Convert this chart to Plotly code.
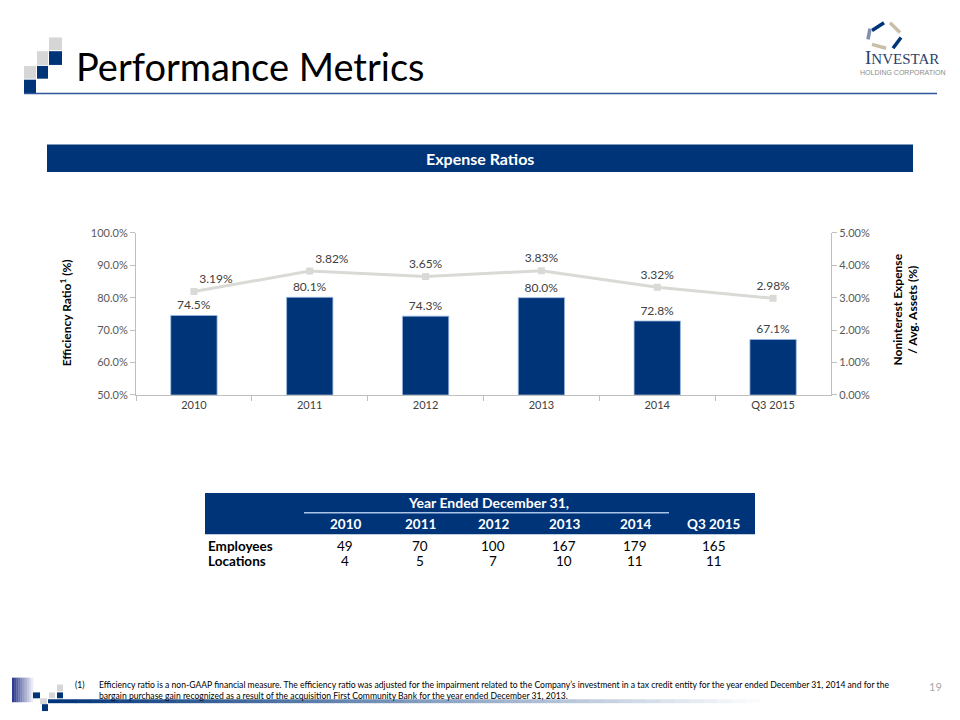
import plotly.graph_objects as go

# ---------------- data ----------------
categories = ["2010", "2011", "2012", "2013", "2014", "Q3 2015"]
efficiency_ratio = [74.5, 80.1, 74.3, 80.0, 72.8, 67.1]
nonint_exp_ratio = [3.19, 3.82, 3.65, 3.83, 3.32, 2.98]
left_ticks = [50, 60, 70, 80, 90, 100]
right_ticks = [0, 1, 2, 3, 4, 5]

table_years = ["2010", "2011", "2012", "2013", "2014", "Q3 2015"]
employees = [49, 70, 100, 167, 179, 165]
locations = [4, 5, 7, 10, 11, 11]

footnote_1 = ("Efficiency ratio is a non-GAAP financial measure. The efficiency ratio was adjusted for the impairment "
              "related to the Company\u2019s investment in a tax credit entity for the year ended December 31, 2014 and for the")
footnote_2 = ("bargain purchase gain recognized as a result of the acquisition First Community Bank for the year ended "
              "December 31, 2013.")

# ---------------- helpers ----------------
W, H = 960, 720
NAVY = "#003478"
GRAY_SQ = "#D6D6D6"
FONT = "Lato"


def px(x):
    return x / W


def py(y):
    return 1 - y / H


shapes = []
annotations = []


def rect(x0, y0, x1, y1, color):
    shapes.append(dict(type="rect", xref="paper", yref="paper",
                       x0=px(x0), x1=px(x1), y0=py(y1), y1=py(y0),
                       fillcolor=color, line=dict(width=0), layer="above"))


def hline(x0, x1, y, color, width):
    shapes.append(dict(type="line", xref="paper", yref="paper",
                       x0=px(x0), x1=px(x1), y0=py(y), y1=py(y),
                       line=dict(color=color, width=width), layer="above"))


def text(x, y, s, size=12, color="#000", bold=False, xanchor="center", yanchor="middle",
         family=FONT, angle=0, align="center"):
    if bold:
        s = "<b>" + s + "</b>"
    annotations.append(dict(xref="paper", yref="paper", x=px(x), y=py(y), text=s,
                            showarrow=False, xanchor=xanchor, yanchor=yanchor,
                            textangle=angle, align=align,
                            font=dict(size=size, color=color, family=family)))


def mix(c1, c2, t):
    a = [int(c1[i:i + 2], 16) for i in (1, 3, 5)]
    b = [int(c2[i:i + 2], 16) for i in (1, 3, 5)]
    return "#%02x%02x%02x" % tuple(round(a[k] + (b[k] - a[k]) * t) for k in range(3))


# ---------------- figure ----------------
fig = go.Figure()

fig.add_trace(go.Bar(
    x=categories, y=efficiency_ratio, yaxis="y", width=0.4,
    marker=dict(color=NAVY, line=dict(color="#9DBBE3", width=0.8)),
    text=[f"{v:.1f}%" for v in efficiency_ratio], textposition="outside",
    textfont=dict(size=12, color="#404040", family=FONT), cliponaxis=False,
    showlegend=False, hoverinfo="skip"))

fig.add_trace(go.Scatter(
    x=categories, y=nonint_exp_ratio, yaxis="y2", mode="lines+markers+text",
    line=dict(color="#D9D9D6", width=3),
    marker=dict(symbol="square", size=7, color="#D9D9D6"),
    text=[f"{v:.2f}%" for v in nonint_exp_ratio],
    textposition=["top right", "top right", "top center", "top center", "top center", "top center"],
    textfont=dict(size=12, color="#404040", family=FONT), cliponaxis=False,
    showlegend=False, hoverinfo="skip"))

axis_col = "#BFBFBF"
fig.update_layout(
    width=W, height=H, autosize=False,
    margin=dict(l=0, r=0, t=0, b=0),
    paper_bgcolor="white", plot_bgcolor="white",
    font=dict(family=FONT),
    xaxis=dict(domain=[px(136), px(831)], type="category", anchor="y",
               showline=True, linecolor=axis_col, linewidth=1,
               ticks="outside", tickson="boundaries", ticklen=5, tickcolor=axis_col,
               tickfont=dict(size=11, color="#404040", family=FONT), showgrid=False),
    yaxis=dict(domain=[py(395), py(230)], range=[50, 100], anchor="x",
               tickvals=left_ticks, ticktext=[f"{v:.1f}%" for v in left_ticks],
               showline=True, linecolor=axis_col, ticks="outside", ticklen=5, tickcolor=axis_col,
               tickfont=dict(size=11, color="#595959", family=FONT),
               showgrid=False, zeroline=False),
    yaxis2=dict(overlaying="y", side="right", range=[0, 5], anchor="x",
                tickvals=right_ticks, ticktext=[f"{v:.2f}%" for v in right_ticks],
                showline=True, linecolor=axis_col, ticks="outside", ticklen=5, tickcolor=axis_col,
                tickfont=dict(size=11, color="#595959", family=FONT),
                showgrid=False, zeroline=False),
)

# ---------------- header decoration ----------------
rect(49, 31, 62, 44, GRAY_SQ)
rect(49, 45, 62, 59, NAVY)
rect(37, 45, 48, 59, GRAY_SQ)
rect(37, 60, 48, 73, NAVY)
rect(24, 60, 36, 73, GRAY_SQ)
rect(24, 74, 36, 88, NAVY)
hline(24, 937, 88, "#2F5597", 1.5)
text(74, 60, "Performance Metrics", size=38, color="#000000", xanchor="left")

# logo
logo_strokes = [((872, 24), (884, 16), NAVY), ((890, 16), (900, 26), "#C9BFA8"),
                ((901, 31), (893, 42), NAVY), ((886, 42), (872, 38), "#C9BFA8"),
                ((868, 33), (870, 22), "#7F8FB0")]
for (a, b, c) in logo_strokes:
    shapes.append(dict(type="line", xref="paper", yref="paper",
                       x0=px(a[0]), y0=py(a[1]), x1=px(b[0]), y1=py(b[1]),
                       line=dict(color=c, width=3.5)))
text(902, 51, "<span style='font-size:19px'>I</span>NVESTAR", size=15, color="#2B3F6B",
     family="Liberation Serif")
text(902, 67, "HOLDING CORPORATION", size=7, color="#8C8C8C", family="Liberation Sans")

# ---------------- section bar ----------------
rect(47, 140, 913, 168, NAVY)
text(480, 154, "Expense Ratios", size=16, color="white", bold=True)

# axis titles
text(66, 312, "Efficiency Ratio<sup>1</sup> (%)", size=12, color="#000", bold=True, angle=-90)
text(905, 308, "Noninterest Expense<br>/ Avg. Assets (%)", size=12, color="#000", bold=True, angle=-90)

# ---------------- table ----------------
col_x = [345, 420, 493, 564, 635, 714]
rect(205, 495, 755, 537, NAVY)
text(488, 505, "Year Ended December 31,", size=14, color="white", bold=True)
hline(304, 669, 515, "#A9C4E8", 1.5)
for cx, yr in zip(col_x, table_years):
    text(cx, 526, yr, size=13.5, color="white", bold=True)
text(206, 549, "Employees", size=13.5, color="#000", bold=True, xanchor="left")
text(206, 564, "Locations", size=13.5, color="#000", bold=True, xanchor="left")
for cx, e, l in zip(col_x, employees, locations):
    text(cx, 549, str(e), size=13.5, color="#000")
    text(cx, 564, str(l), size=13.5, color="#000")

# ---------------- footer ----------------
n = 10
for i in range(n):
    x0 = 12 + i * 21 / n
    rect(x0, 683, x0 + 21 / n + 0.3, 708, mix("#2E3B8C", "#FFFFFF", i / n))
rect(57, 690, 63, 697, GRAY_SQ)
rect(33, 698, 40, 704, NAVY)
rect(49, 698, 55, 704, GRAY_SQ)
rect(57, 698, 63, 704, NAVY)
rect(40, 704, 47, 710, GRAY_SQ)
rect(42, 710, 48, 717, NAVY)
n = 50
for i in range(n):
    x0 = 48 + i * (760 - 48) / n
    rect(x0, 705, x0 + (760 - 48) / n + 0.5, 709, mix(NAVY, "#FFFFFF", i / n))

text(73, 690, "(1)", size=8.5, color="#000", xanchor="left")
text(97, 690, footnote_1, size=8.6, color="#000", xanchor="left")
text(97, 702, footnote_2, size=8.6, color="#000", xanchor="left")
text(935, 692, "19", size=11, color="#A6A6A6")

fig.update_layout(shapes=shapes, annotations=annotations)
fig.write_html("out.html", config={"displayModeBar": False},
               post_script="document.body.style.margin='0';document.body.style.overflow='hidden';")
